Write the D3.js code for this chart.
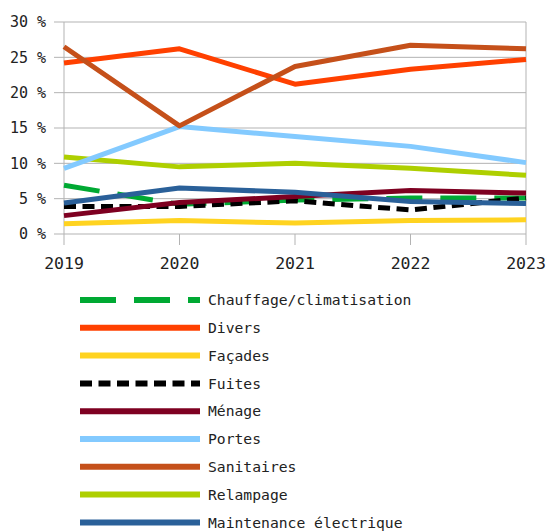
<!DOCTYPE html>
<html><head><meta charset="utf-8">
<script src="https://cdn.jsdelivr.net/npm/d3@7"></script>
<style>body{margin:0;background:#fff}svg{display:block}</style>
</head><body>
<svg id="c" width="547" height="531"></svg>
<script>
const years = [2019, 2020, 2021, 2022, 2023];
const yTicks = [0, 5, 10, 15, 20, 25, 30];
const seriesNames = ["Chauffage/climatisation","Divers","Façades","Fuites","Ménage","Portes","Sanitaires","Relampage","Maintenance électrique"];
const chauffage   = [6.9, 4.2, 4.8, 5.1, 5.1];
const divers      = [24.2, 26.2, 21.2, 23.3, 24.7];
const facades     = [1.45, 1.9, 1.55, 1.9, 2.0];
const fuites      = [3.9, 3.9, 4.7, 3.4, 5.1];
const menage      = [2.6, 4.45, 5.3, 6.15, 5.8];
const portes      = [9.3, 15.2, 13.8, 12.4, 10.1];
const sanitaires  = [26.5, 15.3, 23.7, 26.7, 26.2];
const relampage   = [10.9, 9.5, 10.0, 9.3, 8.3];
const maintenance = [4.4, 6.5, 5.9, 4.6, 4.3];
const seriesValues = [chauffage, divers, facades, fuites, menage, portes, sanitaires, relampage, maintenance];
const colors = ["#00a933","#ff4000","#ffd320","#000000","#7e0021","#83caff","#c5501a","#aecf00","#2a6099"];
const dashes = ["36,18", null, null, "12,6.5", null, null, null, null, null];
// draw order: as listed, with top series drawn last per reference layering
const drawOrder = [2,0,3,4,8,7,5,1,6];

const svg = d3.select("#c");
const font = "'DejaVu Sans Mono', monospace";
const x = d3.scalePoint().domain(years).range([64, 526]);
const y = d3.scaleLinear().domain([0, 30]).range([234, 22]);

// gridlines
svg.append("g").selectAll("line").data(yTicks).join("line")
  .attr("x1", 54).attr("x2", 526)
  .attr("y1", d => y(d)).attr("y2", d => y(d))
  .attr("stroke", "#b3b3b3").attr("stroke-width", 1);
// vertical grid/axis lines at years
svg.append("g").selectAll("line").data(years).join("line")
  .attr("x1", d => x(d)).attr("x2", d => x(d))
  .attr("y1", d => (d === years[0] || d === years[years.length-1]) ? y(30) : y(0)).attr("y2", 245)
  .attr("stroke", "#b3b3b3").attr("stroke-width", 1);

// y labels
svg.append("g").selectAll("text").data(yTicks).join("text")
  .attr("x", 46).attr("y", d => y(d)).attr("dy", "0.36em")
  .attr("text-anchor", "end").attr("font-family", font).attr("font-size", 15)
  .attr("fill", "#222").text(d => d + " %");
// x labels
svg.append("g").selectAll("text").data(years).join("text")
  .attr("x", d => x(d)).attr("y", 269)
  .attr("text-anchor", "middle").attr("font-family", font).attr("font-size", 16.5)
  .attr("fill", "#222").text(d => d);

const line = d3.line().x((d, i) => x(years[i])).y(d => y(d));
svg.append("g").selectAll("path").data(drawOrder).join("path")
  .attr("d", i => line(seriesValues[i]))
  .attr("fill", "none").attr("stroke", i => colors[i]).attr("stroke-width", 5)
  .attr("stroke-linejoin", "round")
  .attr("stroke-dasharray", i => dashes[i]);

// legend
const lg = svg.append("g").selectAll("g").data(seriesNames).join("g")
  .attr("transform", (d, i) => `translate(0, ${300 + i * 27.8})`);
lg.append("line").attr("x1", 80).attr("x2", 200).attr("y1", 0).attr("y2", 0)
  .attr("stroke", (d, i) => colors[i]).attr("stroke-width", 6)
  .attr("stroke-dasharray", (d, i) => dashes[i]);
lg.append("text").attr("x", 208).attr("y", 0).attr("dy", "0.36em")
  .attr("font-family", font).attr("font-size", 14.7).attr("fill", "#222")
  .text(d => d);
</script>
</body></html>
